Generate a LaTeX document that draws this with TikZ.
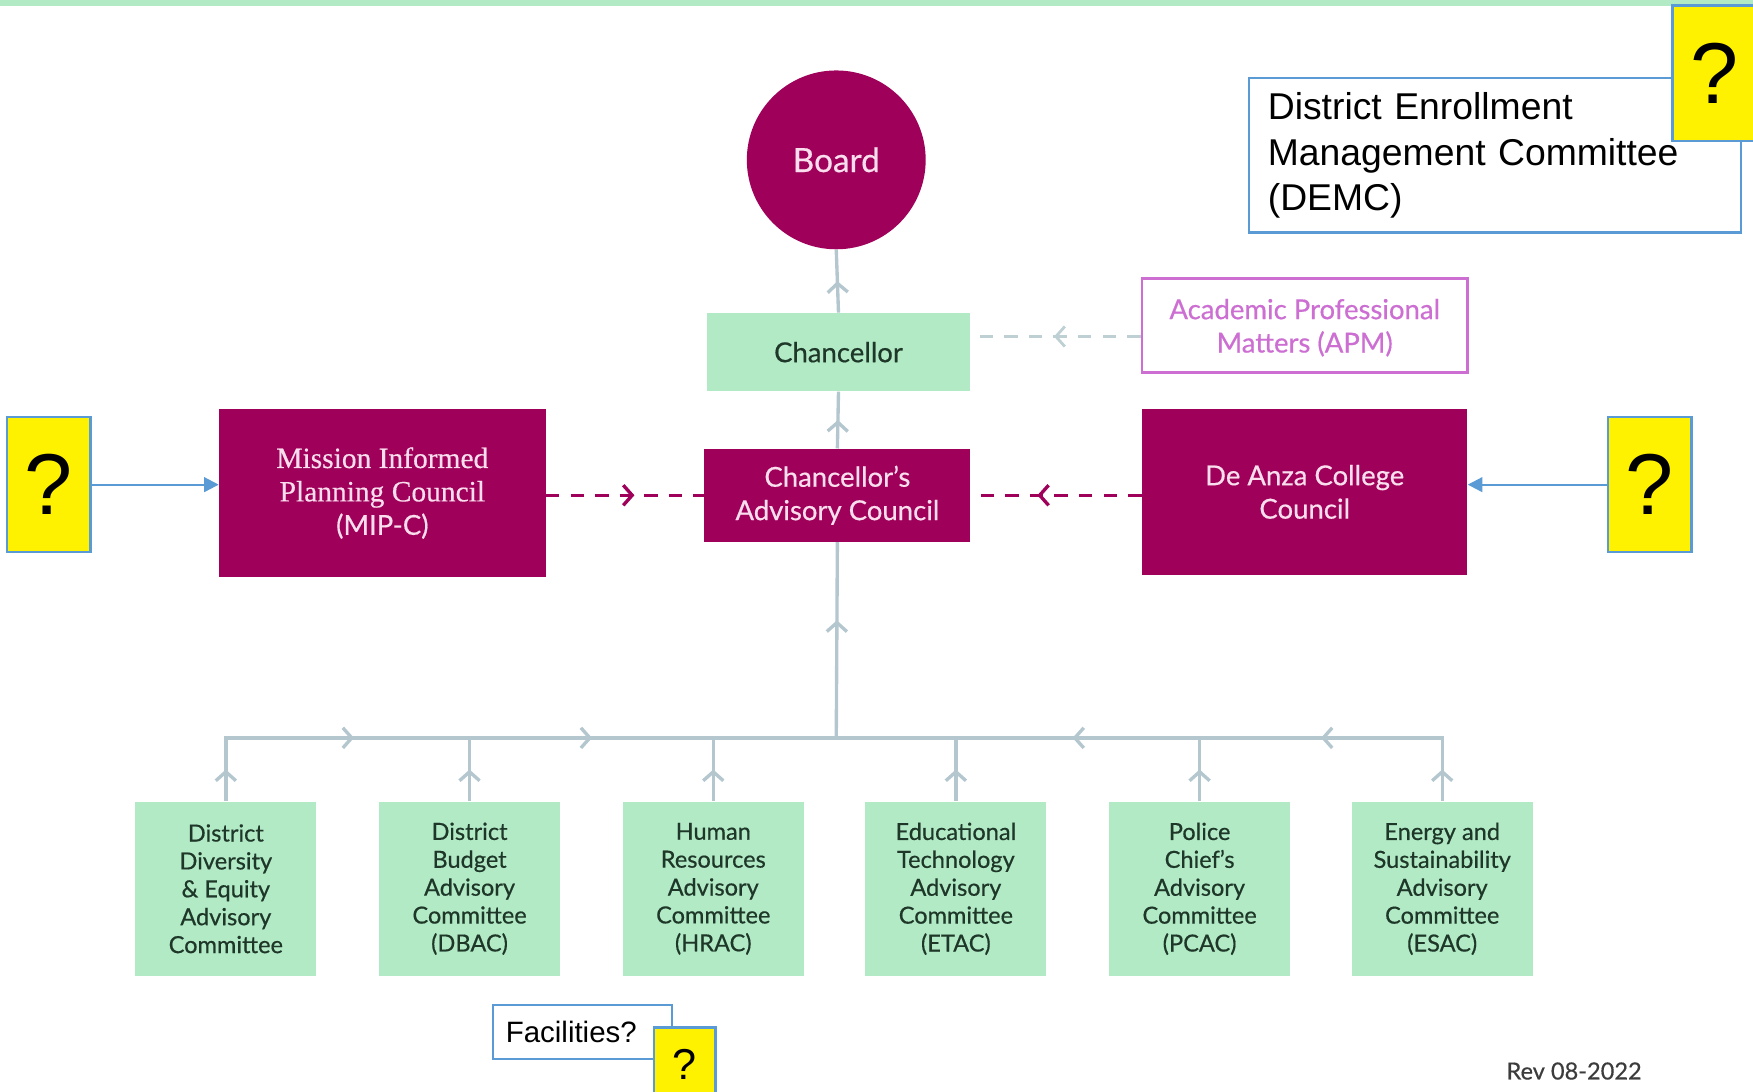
\documentclass[tikz,border=0pt]{standalone}
\usepackage{fontspec}
\setmainfont{Lato}[FakeBold=0.5]
\newfontfamily\arialfont{Liberation Sans}
\newfontfamily\mipfont{Liberation Serif}[FakeBold=0.4]
\usetikzlibrary{arrows.meta,decorations.markings}
\definecolor{plum}{RGB}{158,0,90}
\definecolor{blush}{RGB}{250,222,238}
\definecolor{mint}{RGB}{178,234,198}
\definecolor{ink}{RGB}{30,55,40}
\definecolor{linkgray}{RGB}{180,198,206}
\definecolor{dashgray}{RGB}{190,208,212}
\definecolor{orchid}{RGB}{204,110,210}
\definecolor{noteblue}{RGB}{91,155,213}
\definecolor{revgray}{RGB}{60,60,60}
\begin{document}
\begin{tikzpicture}[x=0.02cm,y=-0.02cm,
    magbox/.style={rectangle,fill=plum,text=blush,align=center,inner sep=0pt,font=\fontsize{14}{17}\selectfont},
    mintbox/.style={rectangle,fill=mint,text=ink,align=center,inner sep=0pt},
    notebox/.style={rectangle,draw=noteblue,line width=0.04cm,fill=white,inner sep=0pt,font=\arialfont},
    qbox/.style={rectangle,draw=noteblue,line width=0.04cm,fill=yellow,inner sep=0pt,font=\arialfont\fontsize{44}{44}\selectfont},
    link/.style={draw=linkgray,line width=0.06cm},
    chev/.style={postaction={decorate,decoration={markings,mark=at position #1 with {\pgfsetdash{}{0pt}\arrow{Straight Barb[length=0.16cm,width=0.36cm]}}}}},
    plumdash/.style={draw=plum,line width=0.06cm,dash pattern=on 0.24cm off 0.2cm},
    greydash/.style={draw=dashgray,line width=0.05cm,dash pattern=on 0.24cm off 0.2cm},
    pointer/.style={draw=noteblue,line width=0.04cm,-{Triangle[length=0.26cm,width=0.26cm]}}]
    \useasboundingbox (0,0) rectangle (1568,976);
    \fill[mint] (0,0) rectangle (1568,5);
    % top of the chart
    \node[circle,fill=plum,text=blush,minimum size=3.2cm,inner sep=0pt,font=\fontsize{17}{20}\selectfont] (board) at (748,143) {Board};
    \node[mintbox,minimum width=4.72cm,minimum height=1.4cm,font=\fontsize{14}{17}\selectfont] (chanc) at (750,315) {Chancellor};
    \node[magbox,minimum width=4.76cm,minimum height=1.66cm] (cac) at (749,443) {Chancellor’s\\Advisory Council};
    \node[magbox,minimum width=5.84cm,minimum height=3cm] (mipc) at (342,441) {{\mipfont\fontsize{15}{17}\selectfont Mission Informed}\\{\mipfont\fontsize{15}{17}\selectfont Planning Council}\\(MIP-C)};
    \node[magbox,minimum width=5.82cm,minimum height=2.98cm] (dacc) at (1167,440) {De Anza College\\Council};
    \node[rectangle,draw=orchid,line width=0.05cm,fill=white,text=orchid,align=center,inner sep=0pt,minimum width=5.82cm,minimum height=1.68cm,font=\fontsize{14}{17}\selectfont] (apm) at (1167,291) {\\[-0.15cm]Academic Professional\\Matters (APM)};
    \draw[link,chev=0.5] (chanc.north) -- (board.south);
    \draw[link,chev=0.5] (cac.north) -- (chanc.south);
    \draw[greydash,chev=0.51] ([yshift=-0.2cm]apm.west) -- ([yshift=-0.2cm]apm.west -| chanc.east);
    \draw[plumdash,chev=0.56] (mipc.east |- cac.west) -- (cac.west);
    \draw[plumdash,chev=0.61] (dacc.west |- cac.east) -- (cac.east);
    % committees
    \coordinate (bus) at (748,660);
    \draw[link,chev=0.6] (bus) -- (cac.south);
    \foreach \cx/\nm/\txt in {202/ddeac/{District\\Diversity\\\&~Equity\\Advisory\\Committee},
        420/dbac/{District\\Budget\\Advisory\\Committee\\(DBAC)},
        638/hrac/{Human\\Resources\\Advisory\\Committee\\(HRAC)},
        855/etac/{Educational\\Technology\\Advisory\\Committee\\(ETAC)},
        1073/pcac/{Police\\Chief’s\\Advisory\\Committee\\(PCAC)},
        1290/esac/{Energy and\\Sustainability\\Advisory\\Committee\\(ESAC)}}
    {
    \node[mintbox,minimum width=3.24cm,minimum height=3.12cm,font=\fontsize{12}{14.2}\selectfont] (\nm) at (\cx,795) {\txt};
    \draw[link,chev=0.5] (\nm.north) -- (\nm.north |- bus);
    }
    \draw[link,line cap=rect,chev=0.21,chev=0.6] (ddeac.north |- bus) -- (bus);
    \draw[link,line cap=rect,chev=0.2,chev=0.61] (esac.north |- bus) -- (bus);
    % notes added on top
    \node[qbox,minimum width=1.5cm,minimum height=2.42cm] (qleft) at (43.5,433.5) {?};
    \node[qbox,minimum width=1.5cm,minimum height=2.42cm] (qright) at (1475.5,433.5) {?};
    \draw[pointer] (qleft.east) -- (qleft.east -| mipc.west);
    \draw[pointer] (qright.west) -- (qright.west -| dacc.east);
    \node[notebox,align=left,minimum width=8.8cm,minimum height=2.76cm,text width=8.12cm,inner xsep=0.34cm,font=\arialfont\fontsize{19}{23}\selectfont] (demc) at (1337,139) {District Enrollment\\Management Committee\\(DEMC)};
    \node[qbox,minimum width=1.5cm,minimum height=2.42cm] (qtop) at (1533.5,65.5) {?};
    \node[notebox,minimum width=3.2cm,minimum height=0.96cm,font=\arialfont\fontsize{15}{18}\selectfont] (fac) at (521,923) {\hspace*{-0.4cm}Facilities?};
    \node[qbox,minimum width=1.1cm,minimum height=1.32cm,font=\arialfont\fontsize{22}{22}\selectfont] (qsmall) at (612.5,952) {?};
    \node[text=revgray,font=\fontsize{12}{14}\selectfont] (rev) at (1408,958) {Rev 08-2022};
\end{tikzpicture}
\end{document}
